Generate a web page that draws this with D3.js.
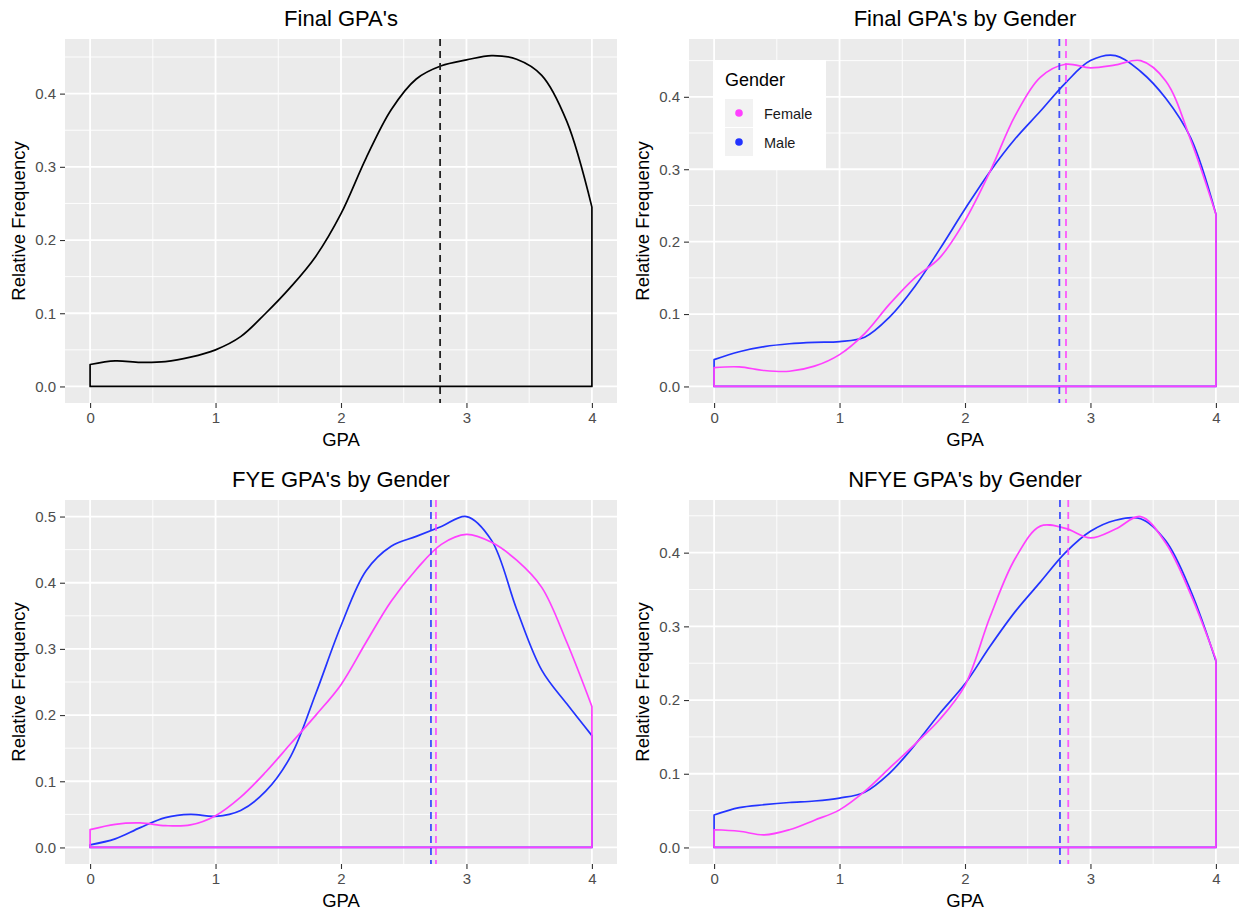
<!DOCTYPE html>
<html>
<head>
<meta charset="utf-8">
<script src="https://cdn.jsdelivr.net/npm/d3@7"></script>
<style>
body{margin:0;background:#fff;}
text{font-family:"Liberation Sans",Arial,Helvetica,sans-serif;}
</style>
</head>
<body>
<div id="main"></div>
<script>
// gpa values where the densities were read
var gpaGrid=[0,0.2,0.4,0.6,0.8,1,1.2,1.4,1.6,1.8,2,2.2,2.4,2.6,2.8,3,3.2,3.4,3.6,3.8,4];

var finalAll   =[0.030,0.035,0.033,0.034,0.040,0.050,0.068,0.100,0.136,0.178,0.236,0.312,0.378,0.420,0.438,0.446,0.452,0.447,0.425,0.362,0.245];
var finalMale  =[0.037,0.048,0.055,0.059,0.061,0.062,0.068,0.096,0.138,0.190,0.245,0.297,0.342,0.380,0.419,0.450,0.457,0.435,0.398,0.343,0.238];
var finalFemale=[0.026,0.027,0.022,0.021,0.028,0.044,0.073,0.114,0.150,0.178,0.229,0.297,0.374,0.427,0.445,0.440,0.444,0.450,0.422,0.340,0.238];
var fyeMale    =[0.004,0.013,0.030,0.045,0.050,0.047,0.056,0.085,0.138,0.233,0.335,0.418,0.455,0.470,0.485,0.500,0.464,0.360,0.268,0.217,0.169];
var fyeFemale  =[0.027,0.035,0.037,0.033,0.034,0.048,0.076,0.114,0.157,0.200,0.246,0.310,0.372,0.420,0.458,0.473,0.461,0.434,0.393,0.310,0.213];
var nfyeMale   =[0.044,0.054,0.058,0.061,0.063,0.067,0.075,0.101,0.139,0.182,0.222,0.273,0.320,0.360,0.400,0.429,0.444,0.446,0.416,0.348,0.253];
var nfyeFemale =[0.024,0.022,0.017,0.024,0.037,0.051,0.076,0.108,0.140,0.174,0.220,0.313,0.392,0.436,0.433,0.420,0.432,0.449,0.413,0.343,0.255];

// mean gpa (dashed lines)
var meanAll=2.79;
var meanFinal={Male:2.752,Female:2.805};
var meanFye={Male:2.717,Female:2.757};
var meanNfye={Male:2.757,Female:2.823};

var xTicks=[0,1,2,3,4];
var yTicks=[0,0.1,0.2,0.3,0.4];
var yTicks5=[0,0.1,0.2,0.3,0.4,0.5];
var genders=['Female','Male'];
var genderColor={Female:'#ff40ff',Male:'#2233ff'};

var svg=d3.select('#main')
  .append('svg')
    .attr('width',1239)
    .attr('height',911);

svg.append('rect').attr('width',1239).attr('height',911).attr('fill','#fff');

var panels=[
  {title:"Final GPA's",left:65,top:39,yt:yTicks,
    series:[{v:finalAll,color:'#000',mean:meanAll,dash:'#222'}]},
  {title:"Final GPA's by Gender",left:689,top:39,yt:yTicks,legend:true,
    series:[{v:finalMale,color:genderColor.Male,mean:meanFinal.Male},
            {v:finalFemale,color:genderColor.Female,mean:meanFinal.Female}]},
  {title:"FYE GPA's by Gender",left:65,top:500,yt:yTicks5,
    series:[{v:fyeMale,color:genderColor.Male,mean:meanFye.Male},
            {v:fyeFemale,color:genderColor.Female,mean:meanFye.Female}]},
  {title:"NFYE GPA's by Gender",left:689,top:500,yt:yTicks,
    series:[{v:nfyeMale,color:genderColor.Male,mean:meanNfye.Male},
            {v:nfyeFemale,color:genderColor.Female,mean:meanNfye.Female}]}
];

var pw=552, ph=364;

panels.forEach(function(p){
  var g=svg.append('g').attr('transform','translate('+p.left+','+p.top+')');
  var ymax=d3.max(p.series,function(s){return d3.max(s.v)});
  var x=d3.scaleLinear().domain([-0.2,4.2]).range([0,pw]);
  var y=d3.scaleLinear().domain([-0.05*ymax,1.05*ymax]).range([ph,0]);

  g.append('rect').attr('width',pw).attr('height',ph).attr('fill','#ebebeb');

  // minor grid
  var xMinor=[0.5,1.5,2.5,3.5];
  var yMinor=p.yt.map(function(t){return t+0.05}).filter(function(t){return t<y.domain()[1]});
  g.selectAll('.xminor').data(xMinor).enter().append('line')
    .attr('x1',x).attr('x2',x).attr('y1',0).attr('y2',ph)
    .attr('stroke','#fff').attr('stroke-width',0.9);
  g.selectAll('.yminor').data(yMinor).enter().append('line')
    .attr('y1',y).attr('y2',y).attr('x1',0).attr('x2',pw)
    .attr('stroke','#fff').attr('stroke-width',0.9);
  // major grid
  g.selectAll('.xmajor').data(xTicks).enter().append('line')
    .attr('x1',x).attr('x2',x).attr('y1',0).attr('y2',ph)
    .attr('stroke','#fff').attr('stroke-width',1.8);
  g.selectAll('.ymajor').data(p.yt).enter().append('line')
    .attr('y1',y).attr('y2',y).attr('x1',0).attr('x2',pw)
    .attr('stroke','#fff').attr('stroke-width',1.8);

  // axes
  var xAxis=g.append('g').attr('transform','translate(0,'+ph+')')
    .call(d3.axisBottom(x).tickValues(xTicks).tickSize(5).tickPadding(4).tickFormat(d3.format('d')));
  var yAxis=g.append('g')
    .call(d3.axisLeft(y).tickValues(p.yt).tickSize(5).tickPadding(4).tickFormat(d3.format('.1f')));
  [xAxis,yAxis].forEach(function(a){
    a.select('.domain').remove();
    a.selectAll('line').attr('stroke','#333').attr('stroke-width',1.1);
    a.selectAll('text').attr('fill','#4d4d4d').style('font-size','15px')
      .style('font-family','"Liberation Sans",Arial,sans-serif');
  });

  var line=d3.line()
    .x(function(d){return x(d[0])})
    .y(function(d){return y(d[1])})
    .curve(d3.curveCatmullRom);

  p.series.forEach(function(s){
    var pts=gpaGrid.map(function(gg,i){return [gg,s.v[i]]});
    var d='M'+x(0)+','+y(0)+line(pts).replace(/^M/,'L')+'L'+x(4)+','+y(0)+'Z';
    g.append('path').attr('d',d).attr('fill','none')
      .attr('stroke',s.color).attr('stroke-width',1.7).attr('stroke-linejoin','round');
  });
  p.series.forEach(function(s){
    g.append('line').attr('x1',x(s.mean)).attr('x2',x(s.mean)).attr('y1',0).attr('y2',ph)
      .attr('stroke',s.dash||s.color).attr('stroke-width',1.8).attr('stroke-dasharray','7,5')
      .attr('opacity',s.dash?1:0.85);
  });

  // titles
  svg.append('text').attr('x',p.left+pw/2).attr('y',p.top-13)
    .attr('text-anchor','middle').style('font-size','22px').attr('fill','#000').text(p.title);
  svg.append('text').attr('x',p.left+pw/2).attr('y',p.top+ph+43)
    .attr('text-anchor','middle').style('font-size','18.5px').attr('fill','#000').text('GPA');
  svg.append('text')
    .attr('transform','translate('+(p.left-40)+','+(p.top+ph/2)+') rotate(-90)')
    .attr('text-anchor','middle').style('font-size','18.5px').attr('fill','#000').text('Relative Frequency');

  if(p.legend){
    var lg=g.append('g').attr('transform','translate(24,21)');
    lg.append('rect').attr('width',113).attr('height',109).attr('fill','#fff');
    lg.append('text').attr('x',12).attr('y',26).style('font-size','18px').attr('fill','#000').text('Gender');
    genders.forEach(function(k,i){
      var row=lg.append('g').attr('transform','translate(12,'+(39+i*29)+')');
      row.append('rect').attr('width',28).attr('height',28).attr('fill','#f2f2f2');
      row.append('circle').attr('cx',14).attr('cy',14).attr('r',3.8).attr('fill',genderColor[k]);
      row.append('text').attr('x',39).attr('y',19.5).style('font-size','14.5px').attr('fill','#1a1a1a').text(k);
    });
  }
});
</script>
</body>
</html>
